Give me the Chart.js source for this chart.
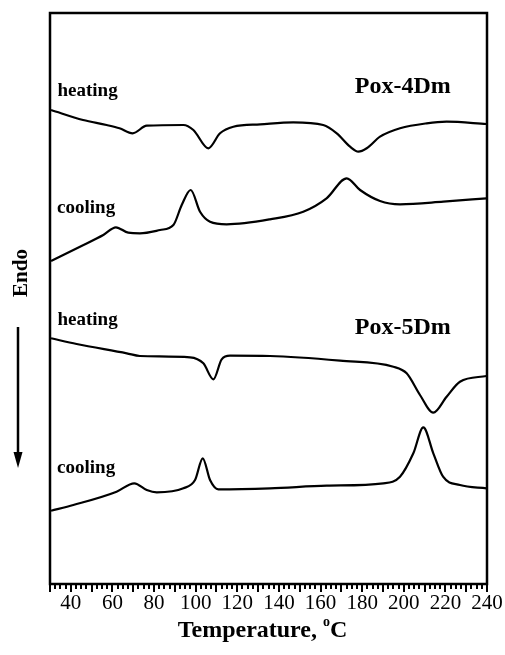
<!DOCTYPE html>
<html>
<head>
<meta charset="utf-8">
<script src="https://cdn.jsdelivr.net/npm/chart.js@4/dist/chart.umd.min.js"></script>
<style>
  html, body { margin: 0; padding: 0; background: #fff; }
  canvas { display: block; }
</style>
</head>
<body>
<canvas id="dsc" width="505" height="655"></canvas>
<script>
// DSC thermograms (heat flow, arbitrary units, offset per trace) vs. temperature in °C

// Pox-4Dm, heating scan
const pox4HeatT = [30.5, 45.9, 57.2, 63.4, 69.7, 76.5, 94.1, 98.9, 106.1, 111.7, 118.1, 131.0, 146.9, 161.3, 167.8, 174.2, 178.2, 182.2, 188.6, 198.2, 211.0, 220.6, 239.8];
const pox4HeatQ = [474, 464, 459, 455.7, 450.7, 458.3, 459, 454, 435.7, 450.7, 457.3, 459.7, 461.7, 459, 450.7, 437.3, 432.3, 435.7, 447.3, 455.7, 460.7, 462.3, 460];

// Pox-4Dm, cooling scan
const pox4CoolT = [30.5, 44.4, 55.6, 61.7, 67.6, 73.2, 82.9, 89.3, 93.3, 97.6, 102.1, 106.9, 114.9, 135.7, 151.7, 162.9, 172.6, 179.0, 188.6, 198.2, 219.0, 239.8];
const pox4CoolQ = [323, 337.3, 349, 356.7, 351.3, 350.7, 354, 359, 379, 394, 372.3, 362.3, 359.7, 364.7, 372.3, 385.7, 405.7, 394, 383, 379.7, 382.3, 385.7];

// Pox-5Dm, heating scan
const pox5HeatT = [30.5, 42.8, 66.9, 73.2, 97.3, 103.7, 108.5, 112.5, 116.5, 135.7, 169.4, 195.0, 201.4, 207.8, 214.2, 220.6, 227.0, 239.8];
const pox5HeatQ = [245.7, 240, 230.7, 228, 226.7, 220.7, 204.7, 224.7, 228.3, 228, 223.3, 217.3, 210.7, 189, 171.3, 187.3, 202.3, 208];

// Pox-5Dm, cooling scan
const pox5CoolT = [30.5, 41.2, 62.0, 70.5, 76.5, 81.3, 94.1, 99.7, 103.4, 106.9, 110.9, 135.7, 163.0, 190.2, 198.2, 204.6, 209.4, 214.2, 218.9, 227.0, 239.8];
const pox5CoolQ = [73.3, 79, 92.3, 100.7, 94, 91.7, 95.7, 104, 125.7, 104, 94.7, 95.7, 98.3, 100.7, 107.3, 130.7, 156.7, 130.7, 107.3, 99, 95.7];

// Axis
const tempMin = 30, tempMax = 240;
const tempTickLabels = [40, 60, 80, 100, 120, 140, 160, 180, 200, 220, 240];
const minorTickStep = 2.5;
const majorTickStep = 10;

// Text placed inside the plot (temperature, heat-flow coordinates)
const curveNotes = [
  { text: 'heating', t: 33.6, q: 493, size: 19 },
  { text: 'cooling', t: 33.4, q: 376, size: 19 },
  { text: 'Pox-4Dm', t: 176.5, q: 497, size: 24 },
  { text: 'heating', t: 33.6, q: 264, size: 19 },
  { text: 'cooling', t: 33.4, q: 116, size: 19 },
  { text: 'Pox-5Dm', t: 176.5, q: 256, size: 24 }
];

const SERIF = '"Liberation Serif", "Times New Roman", serif';

function toPoints(ts, qs) {
  return ts.map((t, i) => ({ x: t, y: qs[i] }));
}

function trace(label, ts, qs) {
  return {
    label,
    data: toPoints(ts, qs),
    borderColor: '#000',
    borderWidth: 2.2,
    pointRadius: 0,
    fill: false,
    cubicInterpolationMode: 'monotone'
  };
}

const decorations = {
  id: 'decorations',
  afterDraw(chart) {
    const { ctx, chartArea: a, scales } = chart;
    const xs = scales.x, ys = scales.y;
    ctx.save();

    // plot frame
    ctx.strokeStyle = '#000';
    ctx.lineWidth = 2.5;
    ctx.strokeRect(a.left, a.top, a.right - a.left, a.bottom - a.top);

    // outward tick marks along the temperature axis
    ctx.lineWidth = 2;
    const nSteps = Math.round((tempMax - tempMin) / minorTickStep);
    for (let i = 0; i <= nSteps; i++) {
      const v = tempMin + i * minorTickStep;
      const isMajor = Math.abs(v / majorTickStep - Math.round(v / majorTickStep)) < 1e-6;
      const px = Math.round(xs.getPixelForValue(v));
      ctx.beginPath();
      ctx.moveTo(px, a.bottom);
      ctx.lineTo(px, a.bottom + (isMajor ? 8 : 5));
      ctx.stroke();
    }

    // curve annotations
    ctx.fillStyle = '#000';
    ctx.textBaseline = 'middle';
    ctx.textAlign = 'left';
    curveNotes.forEach(n => {
      ctx.font = 'bold ' + n.size + 'px ' + SERIF;
      ctx.fillText(n.text, xs.getPixelForValue(n.t), ys.getPixelForValue(n.q));
    });

    // axis title with superscript degree
    const main = 'Temperature, ';
    ctx.font = 'bold 24px ' + SERIF;
    const wMain = ctx.measureText(main).width;
    ctx.font = 'bold 14px ' + SERIF;
    const wSup = ctx.measureText('o').width;
    ctx.font = 'bold 24px ' + SERIF;
    const wC = ctx.measureText('C').width;
    const total = wMain + wSup + wC;
    const x0 = (a.left + a.right) / 2 - total / 2 - 6;
    const yT = 631;
    ctx.fillText(main, x0, yT);
    ctx.font = 'bold 14px ' + SERIF;
    ctx.fillText('o', x0 + wMain, yT - 9);
    ctx.font = 'bold 24px ' + SERIF;
    ctx.fillText('C', x0 + wMain + wSup, yT);

    // vertical "Endo" label with downward arrow
    ctx.save();
    ctx.translate(a.left - 28, 273);
    ctx.rotate(-Math.PI / 2);
    ctx.textAlign = 'center';
    ctx.font = 'bold 21px ' + SERIF;
    ctx.fillText('Endo', 0, 0);
    ctx.restore();

    const ax = a.left - 32;
    ctx.lineWidth = 2.5;
    ctx.beginPath();
    ctx.moveTo(ax, 327);
    ctx.lineTo(ax, 456);
    ctx.stroke();
    ctx.beginPath();
    ctx.moveTo(ax - 4.5, 452);
    ctx.lineTo(ax + 4.5, 452);
    ctx.lineTo(ax, 468);
    ctx.closePath();
    ctx.fill();

    ctx.restore();
  }
};

new Chart(document.getElementById('dsc'), {
  type: 'line',
  data: {
    datasets: [
      trace('Pox-4Dm heating', pox4HeatT, pox4HeatQ),
      trace('Pox-4Dm cooling', pox4CoolT, pox4CoolQ),
      trace('Pox-5Dm heating', pox5HeatT, pox5HeatQ),
      trace('Pox-5Dm cooling', pox5CoolT, pox5CoolQ)
    ]
  },
  options: {
    responsive: false,
    animation: false,
    layout: { padding: { left: 50, right: 18, top: 13, bottom: 0 } },
    plugins: { legend: { display: false }, tooltip: { enabled: false } },
    scales: {
      x: {
        type: 'linear',
        min: tempMin,
        max: tempMax,
        afterBuildTicks: s => { s.ticks = tempTickLabels.map(v => ({ value: v })); },
        afterFit: s => { s.height = 71; s.paddingLeft = 0; s.paddingRight = 0; },
        grid: { display: false, drawTicks: false },
        border: { display: false },
        ticks: {
          color: '#000',
          font: { family: SERIF, size: 21 },
          padding: 7,
          maxRotation: 0,
          autoSkip: false
        }
      },
      y: { display: false, min: 0, max: 571 }
    }
  },
  plugins: [decorations]
});
</script>
</body>
</html>
